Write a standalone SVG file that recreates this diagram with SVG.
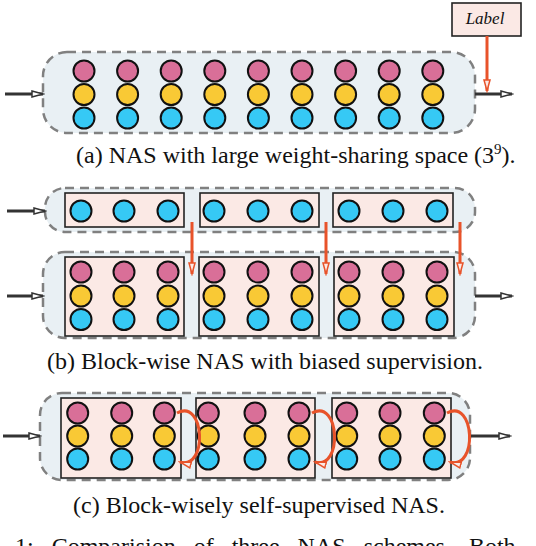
<svg xmlns="http://www.w3.org/2000/svg" width="536" height="546" viewBox="0 0 536 546">
<defs>
<marker id="ab" markerUnits="userSpaceOnUse" markerWidth="14" markerHeight="10" refX="12" refY="4" orient="auto">
<path d="M1,1 L12,4 L1,7 Z" fill="#ffffff" stroke="#333333" stroke-width="1.5"/>
</marker>
<marker id="ar" markerUnits="userSpaceOnUse" markerWidth="14" markerHeight="10" refX="12" refY="4" orient="auto">
<path d="M1,1 L12,4 L1,7 Z" fill="#fbe9e5" stroke="#e8532a" stroke-width="1.5"/>
</marker>
</defs>
<style>
.cont{fill:#e9f0f4;stroke:#808080;stroke-width:2.5;stroke-dasharray:9 6}
.box{fill:#fbe9e5;stroke:#222222;stroke-width:1.6}
.p{fill:#d96f98;stroke:#111;stroke-width:2}
.y{fill:#f9c935;stroke:#111;stroke-width:2}
.b{fill:#36c9f5;stroke:#111;stroke-width:2}
.blk{stroke:#333333;stroke-width:3;fill:none;marker-end:url(#ab)}
.red{stroke:#e8532a;stroke-width:3;fill:none;marker-end:url(#ar)}
.cap{font-family:"Liberation Serif","Times New Roman",serif;font-size:24px;fill:#111}
</style>

<!-- (a) -->
<g id="a-space">
<rect class="cont" x="43" y="52" width="432" height="81" rx="24"/>
<g>
<circle class="p" cx="84" cy="71" r="10.5"/><circle class="y" cx="84" cy="94.5" r="10.5"/><circle class="b" cx="84" cy="118" r="10.5"/>
<circle class="p" cx="127.6" cy="71" r="10.5"/><circle class="y" cx="127.6" cy="94.5" r="10.5"/><circle class="b" cx="127.6" cy="118" r="10.5"/>
<circle class="p" cx="171.2" cy="71" r="10.5"/><circle class="y" cx="171.2" cy="94.5" r="10.5"/><circle class="b" cx="171.2" cy="118" r="10.5"/>
<circle class="p" cx="214.8" cy="71" r="10.5"/><circle class="y" cx="214.8" cy="94.5" r="10.5"/><circle class="b" cx="214.8" cy="118" r="10.5"/>
<circle class="p" cx="258.4" cy="71" r="10.5"/><circle class="y" cx="258.4" cy="94.5" r="10.5"/><circle class="b" cx="258.4" cy="118" r="10.5"/>
<circle class="p" cx="302" cy="71" r="10.5"/><circle class="y" cx="302" cy="94.5" r="10.5"/><circle class="b" cx="302" cy="118" r="10.5"/>
<circle class="p" cx="345.6" cy="71" r="10.5"/><circle class="y" cx="345.6" cy="94.5" r="10.5"/><circle class="b" cx="345.6" cy="118" r="10.5"/>
<circle class="p" cx="389.2" cy="71" r="10.5"/><circle class="y" cx="389.2" cy="94.5" r="10.5"/><circle class="b" cx="389.2" cy="118" r="10.5"/>
<circle class="p" cx="432.8" cy="71" r="10.5"/><circle class="y" cx="432.8" cy="94.5" r="10.5"/><circle class="b" cx="432.8" cy="118" r="10.5"/>
</g>
</g>
<g id="label">
<rect class="box" x="452" y="3" width="69" height="33"/>
<text x="485" y="24" text-anchor="middle" font-family="Liberation Serif, serif" font-style="italic" font-size="17" fill="#111">Label</text>
</g>

<!-- (b) top -->
<g id="b-top">
<rect class="cont" x="45" y="188" width="430" height="44" rx="20"/>
</g>
<g id="b-top-1"><rect class="box" x="65" y="193" width="119" height="34"/>
<circle class="b" cx="81" cy="211" r="10.5"/><circle class="b" cx="124" cy="211" r="10.5"/><circle class="b" cx="168" cy="211" r="10.5"/></g>
<g id="b-top-2"><rect class="box" x="200" y="193" width="119" height="34"/>
<circle class="b" cx="214" cy="211" r="10.5"/><circle class="b" cx="258" cy="211" r="10.5"/><circle class="b" cx="302" cy="211" r="10.5"/></g>
<g id="b-top-3"><rect class="box" x="333" y="193" width="120" height="34"/>
<circle class="b" cx="349" cy="211" r="10.5"/><circle class="b" cx="393" cy="211" r="10.5"/><circle class="b" cx="437" cy="211" r="10.5"/></g>

<!-- (b) bottom -->
<g id="b-bottom">
<rect class="cont" x="43" y="252" width="432" height="86" rx="22"/>
</g>
<g id="b-bot-1"><rect class="box" x="65" y="257" width="119" height="79"/>
<circle class="p" cx="81" cy="272" r="10.5"/><circle class="y" cx="81" cy="296" r="10.5"/><circle class="b" cx="81" cy="319.5" r="10.5"/>
<circle class="p" cx="124" cy="272" r="10.5"/><circle class="y" cx="124" cy="296" r="10.5"/><circle class="b" cx="124" cy="319.5" r="10.5"/>
<circle class="p" cx="168" cy="272" r="10.5"/><circle class="y" cx="168" cy="296" r="10.5"/><circle class="b" cx="168" cy="319.5" r="10.5"/></g>
<g id="b-bot-2"><rect class="box" x="199" y="257" width="120" height="79"/>
<circle class="p" cx="214" cy="272" r="10.5"/><circle class="y" cx="214" cy="296" r="10.5"/><circle class="b" cx="214" cy="319.5" r="10.5"/>
<circle class="p" cx="258" cy="272" r="10.5"/><circle class="y" cx="258" cy="296" r="10.5"/><circle class="b" cx="258" cy="319.5" r="10.5"/>
<circle class="p" cx="302" cy="272" r="10.5"/><circle class="y" cx="302" cy="296" r="10.5"/><circle class="b" cx="302" cy="319.5" r="10.5"/></g>
<g id="b-bot-3"><rect class="box" x="334" y="257" width="120" height="79"/>
<circle class="p" cx="349" cy="272" r="10.5"/><circle class="y" cx="349" cy="296" r="10.5"/><circle class="b" cx="349" cy="319.5" r="10.5"/>
<circle class="p" cx="393" cy="272" r="10.5"/><circle class="y" cx="393" cy="296" r="10.5"/><circle class="b" cx="393" cy="319.5" r="10.5"/>
<circle class="p" cx="437" cy="272" r="10.5"/><circle class="y" cx="437" cy="296" r="10.5"/><circle class="b" cx="437" cy="319.5" r="10.5"/></g>

<!-- (c) -->
<g id="c-space">
<rect class="cont" x="40" y="393" width="430" height="87" rx="22"/>
</g>
<g id="c-1"><rect class="box" x="61" y="398" width="120" height="80"/>
<circle class="p" cx="77.7" cy="413" r="10.5"/><circle class="y" cx="77.7" cy="436" r="10.5"/><circle class="b" cx="77.7" cy="459" r="10.5"/>
<circle class="p" cx="121.7" cy="413" r="10.5"/><circle class="y" cx="121.7" cy="436" r="10.5"/><circle class="b" cx="121.7" cy="459" r="10.5"/>
<circle class="p" cx="164.3" cy="413" r="10.5"/><circle class="y" cx="164.3" cy="436" r="10.5"/><circle class="b" cx="164.3" cy="459" r="10.5"/></g>
<g id="c-2"><rect class="box" x="196" y="398" width="119" height="80"/>
<circle class="p" cx="208.3" cy="413" r="10.5"/><circle class="y" cx="208.3" cy="436" r="10.5"/><circle class="b" cx="208.3" cy="459" r="10.5"/>
<circle class="p" cx="255" cy="413" r="10.5"/><circle class="y" cx="255" cy="436" r="10.5"/><circle class="b" cx="255" cy="459" r="10.5"/>
<circle class="p" cx="299" cy="413" r="10.5"/><circle class="y" cx="299" cy="436" r="10.5"/><circle class="b" cx="299" cy="459" r="10.5"/></g>
<g id="c-3"><rect class="box" x="332" y="398" width="119" height="80"/>
<circle class="p" cx="346.7" cy="413" r="10.5"/><circle class="y" cx="346.7" cy="436" r="10.5"/><circle class="b" cx="346.7" cy="459" r="10.5"/>
<circle class="p" cx="390" cy="413" r="10.5"/><circle class="y" cx="390" cy="436" r="10.5"/><circle class="b" cx="390" cy="459" r="10.5"/>
<circle class="p" cx="434.3" cy="413" r="10.5"/><circle class="y" cx="434.3" cy="436" r="10.5"/><circle class="b" cx="434.3" cy="459" r="10.5"/></g>

<!-- connectors -->
<g id="connectors">
<line class="blk" x1="5" y1="94" x2="43" y2="94"/>
<line class="blk" x1="475" y1="94" x2="512" y2="94"/>
<line class="red" x1="487" y1="36" x2="487" y2="91"/>
<line class="blk" x1="7" y1="211" x2="45" y2="211"/>
<line class="red" x1="192" y1="222" x2="192" y2="274"/>
<line class="red" x1="326" y1="222" x2="326" y2="274"/>
<line class="red" x1="460" y1="222" x2="460" y2="274"/>
<line class="blk" x1="7" y1="296" x2="43" y2="296"/>
<line class="blk" x1="475" y1="296" x2="512" y2="296"/>
<line class="blk" x1="3" y1="436" x2="40" y2="436"/>
<line class="blk" x1="470" y1="436" x2="510" y2="436"/>
<path class="red" d="M177,413 C205,398 208,470 180,462"/>
<path class="red" d="M312,413 C340,398 343,470 315,462"/>
<path class="red" d="M447,413 C475,398 478,470 450,462"/>
</g>

<!-- captions -->
<text class="cap" x="76" y="163">(a) NAS with large weight-sharing space (3<tspan font-size="15" dy="-9">9</tspan><tspan dy="9">).</tspan></text>
<text class="cap" x="47" y="369">(b) Block-wise NAS with biased supervision.</text>
<text class="cap" x="73" y="513">(c) Block-wisely self-supervised NAS.</text>
<text class="cap" x="15" y="554" word-spacing="12">1: Comparision of three NAS schemes. Both</text>
</svg>
